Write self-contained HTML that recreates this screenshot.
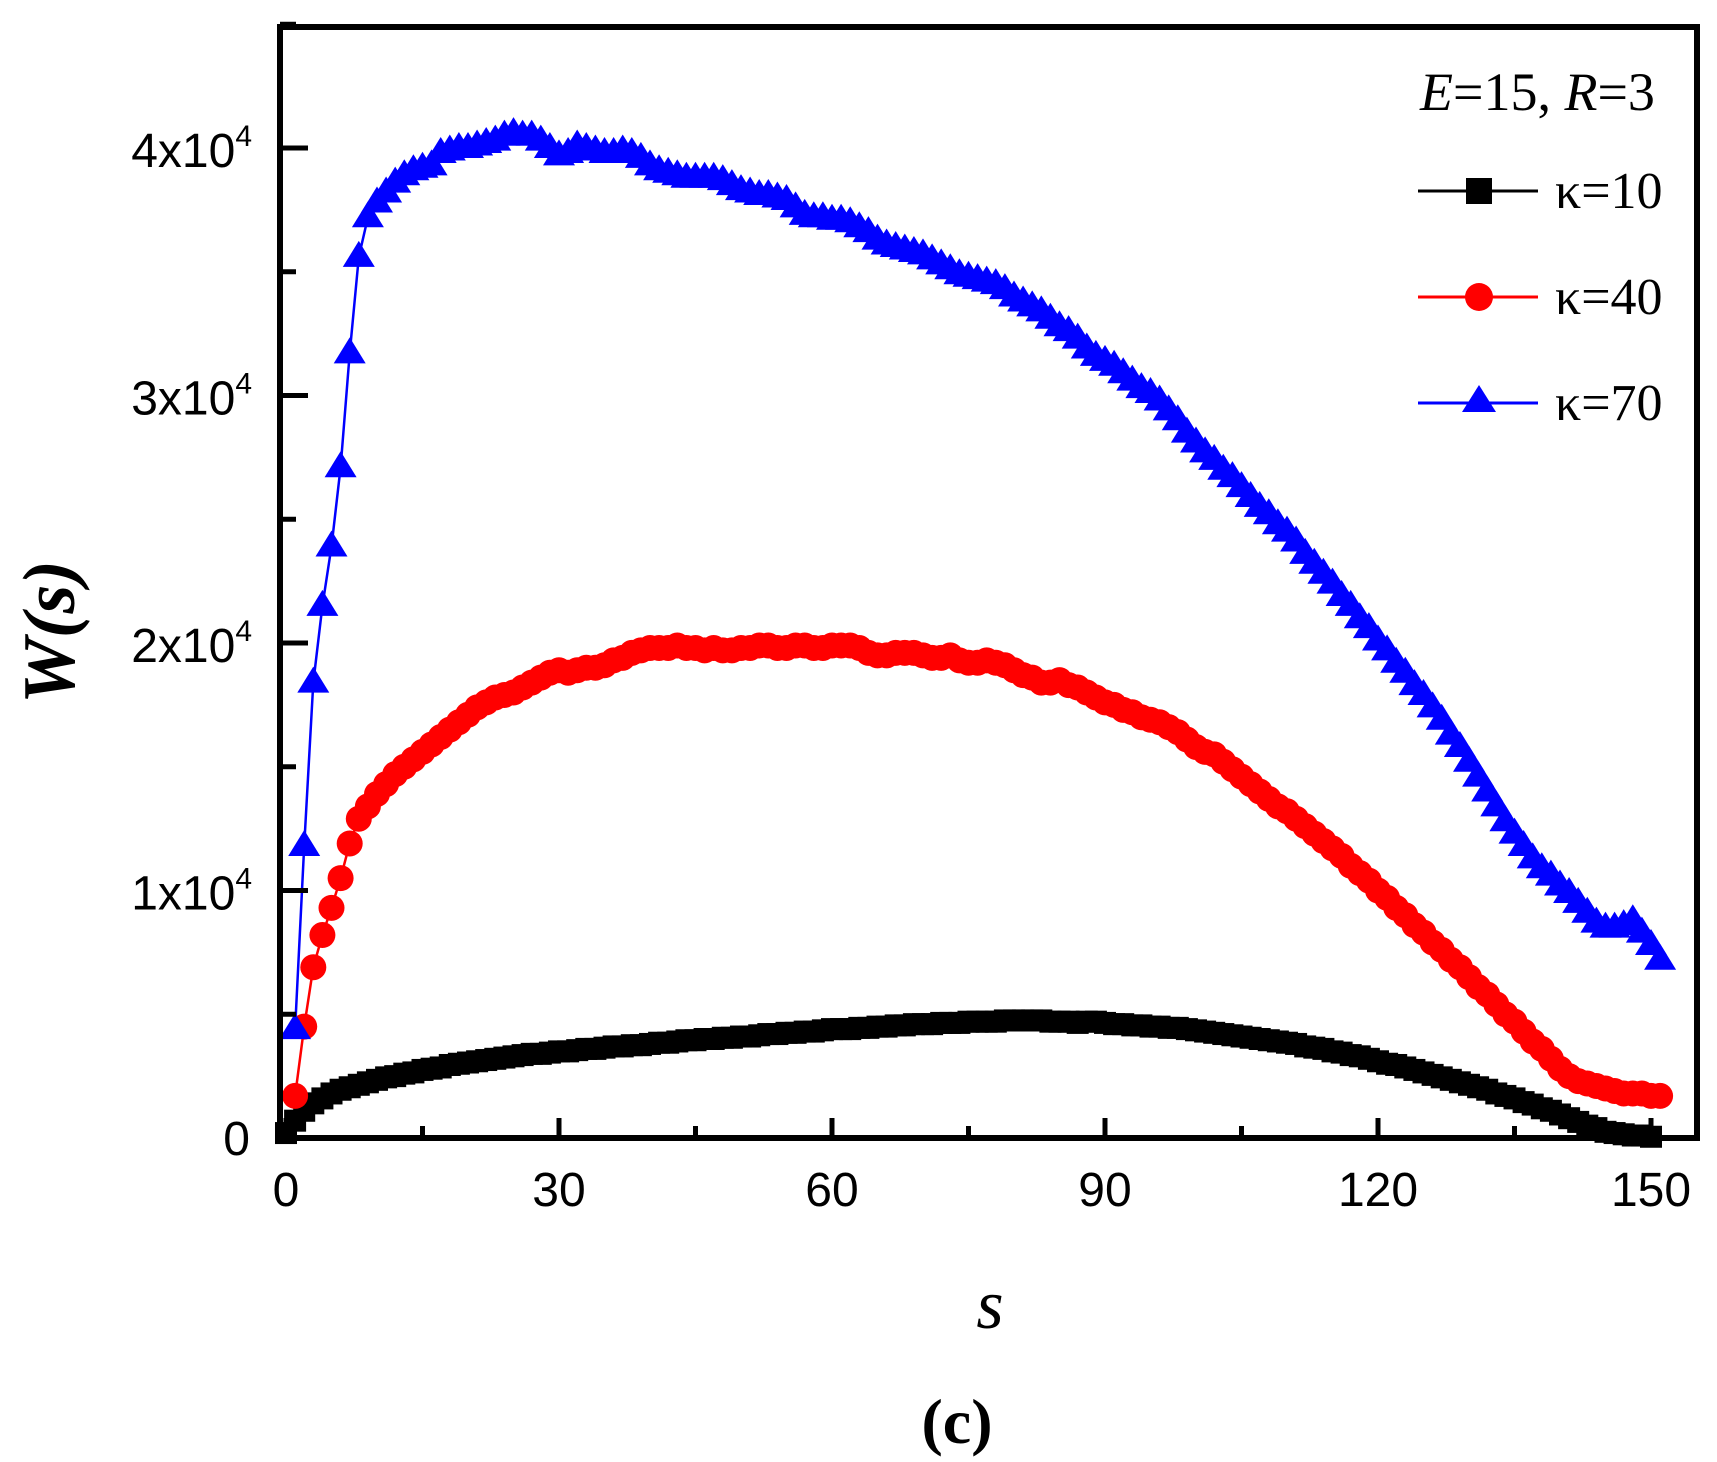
<!DOCTYPE html>
<html><head><meta charset="utf-8"><style>
html,body{margin:0;padding:0;background:#fff;}
svg{display:block;}
</style></head><body>
<svg id="chart" width="1717" height="1462" xmlns="http://www.w3.org/2000/svg">
<rect x="0" y="0" width="1717" height="1462" fill="#fff"/>
<g id="series"></g>
<g id="axes"></g>
<rect x="280" y="27" width="1417" height="1111" fill="none" stroke="#000" stroke-width="6"/>
<text transform="translate(74,632) rotate(-90)" text-anchor="middle" font-family="Liberation Serif, serif" font-style="italic" font-weight="bold" font-size="74">W(s)</text>
<text x="990" y="1328" text-anchor="middle" font-family="Liberation Serif, serif" font-style="italic" font-size="70">s</text>
<text x="957" y="1443" text-anchor="middle" font-family="Liberation Serif, serif" font-weight="bold" font-size="64">(c)</text>
<g font-family="Liberation Serif, serif">
<text x="1420" y="110" font-size="54"><tspan font-style="italic">E</tspan>=15, <tspan font-style="italic">R</tspan>=3</text>
<g>
<line x1="1418" y1="191" x2="1538" y2="191" stroke="#000" stroke-width="3"/>
<rect x="1466" y="178" width="26" height="26" fill="#000"/>
<text x="1555" y="208" font-size="52">κ=10</text></g>
<g>
<line x1="1418" y1="297" x2="1538" y2="297" stroke="#f00" stroke-width="3"/>
<circle cx="1479" cy="297" r="14" fill="#f00"/>
<text x="1555" y="314" font-size="52">κ=40</text></g>
<g>
<line x1="1418" y1="403" x2="1538" y2="403" stroke="#00f" stroke-width="3"/>
<polygon points="1479,385 1496,412 1462,412" fill="#00f"/>
<text x="1555" y="420" font-size="52">κ=70</text></g>
</g>
</svg>
<script>
const xTicks=[0,30,60,90,120,150];
const yTicks=[0,10000,20000,30000,40000];
const yTickLabels=["0","1x10","2x10","3x10","4x10"];
const blackS0=0;
const blackVals=[0.2,0.7,1.1,1.4,1.6,1.8,1.95,2.05,2.15,2.25,2.35,2.45,2.5,2.6,2.65,2.75,2.8,2.85,2.95,3.0,3.05,3.1,3.15,3.2,3.25,3.3,3.35,3.4,3.4,3.45,3.5,3.5,3.55,3.6,3.6,3.65,3.7,3.7,3.75,3.75,3.8,3.85,3.85,3.9,3.95,3.95,4.0,4.0,4.05,4.05,4.1,4.1,4.15,4.2,4.2,4.25,4.25,4.3,4.3,4.35,4.4,4.4,4.4,4.45,4.45,4.5,4.5,4.55,4.55,4.6,4.6,4.6,4.65,4.65,4.65,4.7,4.7,4.7,4.7,4.75,4.75,4.75,4.75,4.75,4.7,4.7,4.7,4.65,4.7,4.7,4.65,4.6,4.6,4.55,4.55,4.5,4.5,4.45,4.45,4.4,4.35,4.3,4.25,4.2,4.15,4.1,4.05,4.0,3.95,3.9,3.85,3.8,3.7,3.65,3.6,3.5,3.45,3.35,3.3,3.2,3.1,3.0,2.95,2.85,2.75,2.65,2.55,2.45,2.35,2.25,2.15,2.05,1.95,1.8,1.7,1.6,1.45,1.35,1.2,1.1,0.95,0.8,0.65,0.5,0.4,0.25,0.2,0.15,0.1,0.1,0.05];
const redS0=1;
const redVals=[1.7,4.5,6.9,8.2,9.3,10.5,11.9,12.9,13.4,13.9,14.3,14.7,15.0,15.3,15.6,15.9,16.2,16.5,16.8,17.1,17.4,17.6,17.8,17.9,18.0,18.2,18.4,18.6,18.8,18.9,18.8,18.9,19.0,19.0,19.1,19.3,19.4,19.6,19.7,19.8,19.8,19.8,19.9,19.8,19.8,19.7,19.8,19.7,19.7,19.8,19.8,19.9,19.9,19.8,19.8,19.9,19.9,19.8,19.8,19.9,19.9,19.9,19.8,19.6,19.5,19.5,19.6,19.6,19.6,19.5,19.4,19.4,19.5,19.3,19.2,19.2,19.3,19.2,19.1,18.9,18.7,18.6,18.4,18.4,18.5,18.3,18.2,18.0,17.8,17.6,17.5,17.3,17.2,17.0,16.9,16.8,16.6,16.4,16.1,15.8,15.6,15.5,15.2,14.9,14.6,14.3,14.0,13.7,13.4,13.2,12.9,12.6,12.3,12.0,11.7,11.4,11.0,10.7,10.4,10.0,9.7,9.3,9.0,8.6,8.3,7.9,7.6,7.2,6.9,6.5,6.1,5.8,5.4,5.0,4.7,4.3,3.9,3.6,3.2,2.8,2.5,2.3,2.2,2.1,2.0,1.9,1.8,1.8,1.8,1.7,1.7];
const blueS0=1;
const blueVals=[4.4,11.8,18.4,21.5,23.9,27.1,31.7,35.6,37.2,37.8,38.2,38.6,38.9,39.1,39.2,39.3,39.8,39.9,40.0,40.0,40.1,40.2,40.3,40.5,40.6,40.5,40.5,40.3,40.0,39.7,39.8,40.1,40.0,39.9,39.8,39.8,39.9,39.8,39.6,39.3,39.1,39.0,38.9,38.8,38.8,38.8,38.8,38.7,38.5,38.3,38.2,38.1,38.1,38.0,37.9,37.6,37.3,37.2,37.2,37.1,37.1,37.0,36.8,36.6,36.3,36.1,36.0,35.9,35.8,35.7,35.5,35.3,35.1,34.9,34.8,34.7,34.6,34.5,34.3,34.0,33.8,33.6,33.4,33.1,32.8,32.6,32.3,31.9,31.6,31.4,31.2,30.9,30.6,30.3,30.1,29.8,29.4,29.0,28.5,28.1,27.7,27.4,27.0,26.7,26.3,25.9,25.5,25.2,24.8,24.5,24.1,23.6,23.2,22.8,22.4,21.9,21.5,21.0,20.6,20.1,19.7,19.2,18.8,18.3,17.9,17.4,16.9,16.3,15.8,15.2,14.6,14.0,13.4,12.8,12.3,11.8,11.3,10.9,10.6,10.2,9.9,9.5,9.1,8.7,8.5,8.5,8.6,8.8,8.3,7.8,7.2];

const NS="http://www.w3.org/2000/svg";
function xs(s){return 286+s*9.1;}
function ys(v){return 1138-v*247.5/10000;}
function mk(tag,attrs,parent){const e=document.createElementNS(NS,tag);for(const k in attrs)e.setAttribute(k,attrs[k]);parent.appendChild(e);return e;}
const axes=document.getElementById('axes');
const series=document.getElementById('series');
xTicks.forEach((t,i)=>{
  const l=mk('line',{x1:xs(t),x2:xs(t),y1:1138,y2:1118,stroke:'#000','stroke-width':5},axes);
  
  
  if(i<xTicks.length-1){const m=mk('line',{x1:xs(t+15),x2:xs(t+15),y1:1138,y2:1126,stroke:'#000','stroke-width':5},axes);
  
  }
  const tx=mk('text',{x:xs(t),y:1206,'text-anchor':'middle','font-family':'Liberation Sans, sans-serif','font-size':48},axes);
  tx.textContent=String(t);
  
  
});
yTicks.forEach((t,i)=>{
  const l=mk('line',{x1:280,x2:308,y1:ys(t),y2:ys(t),stroke:'#000','stroke-width':5},axes);
  
  
  const m=mk('line',{x1:280,x2:296,y1:ys(t+5000),y2:ys(t+5000),stroke:'#000','stroke-width':5},axes);
  
  
  const tx=mk('text',{x:i===0?250:252,y:ys(t)+(i===0?17:19),'text-anchor':'end','font-family':'Liberation Sans, sans-serif','font-size':48},axes);
  
  
  tx.textContent=yTickLabels[i];
  if(i!==0){const sp=document.createElementNS(NS,'tspan');sp.setAttribute('font-size','30');sp.setAttribute('dy','-21');sp.textContent='4';tx.appendChild(sp);}
});
function drawSeries(vals,s0,color,shape,name){
  const g=mk('g',{},series);
  
  
  const pts=vals.map((v,i)=>xs(s0+i).toFixed(1)+','+ys(v*1000).toFixed(1)).join(' ');
  const pl=mk('polyline',{points:pts,fill:'none',stroke:color,'stroke-width':2.5},g);
  
  
  vals.forEach((v,i)=>{
    const x=xs(s0+i),y=ys(v*1000);let m;
    if(shape==='square')m=mk('rect',{x:x-11,y:y-11,width:22,height:22,fill:color},g);
    else if(shape==='circle')m=mk('circle',{cx:x,cy:y,r:13,fill:color},g);
    else m=mk('polygon',{points:`${x},${y-16} ${x+16},${y+10} ${x-16},${y+10}`,fill:color},g);
    
    
  });
}
drawSeries(blackVals,blackS0,'#000','square','series-k10');
drawSeries(redVals,redS0,'#f00','circle','series-k40');
drawSeries(blueVals,blueS0,'#00f','triangle','series-k70');
</script>
</body></html>
